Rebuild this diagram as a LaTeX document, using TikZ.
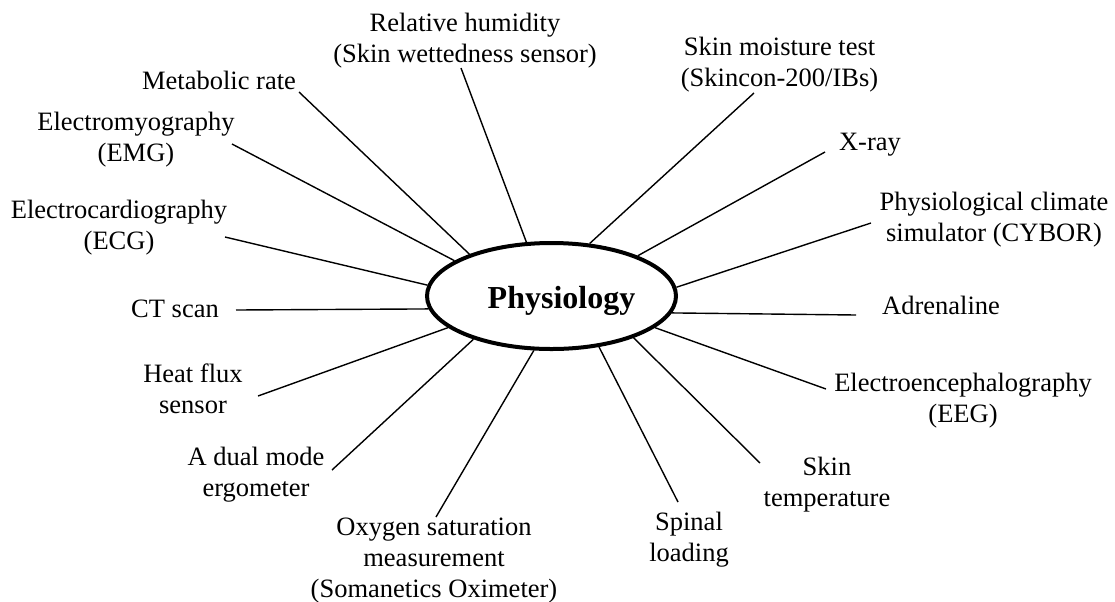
\documentclass[tikz,border=0pt]{standalone}
\usepackage{fontspec}
\setmainfont{Liberation Serif}
\usepackage{tikz}
\usetikzlibrary{shapes.geometric}
\tikzset{
  lbl/.style   ={align=center, inner sep=0pt, font=\fontsize{13.25}{15.5}\selectfont},
  hub/.style   ={ellipse, draw, line width=2pt, minimum width=124.5pt, minimum height=53pt, inner sep=0pt, font=\fontsize{16}{19}\selectfont\bfseries},
  spoke/.style ={line width=0.7pt},
}

\begin{document}
\begin{tikzpicture}[x=0.5pt, y=-0.5pt]
  \useasboundingbox (0,0) rectangle (1115,601);
  % --- hub ---
  \node[hub] (phys) at (551.5,296) {\hspace*{10pt}\raisebox{-6pt}[0pt][0pt]{Physiology}};
  % --- labels ---
  \node[lbl] (hum)    at (465,41)   {Relative humidity\\(Skin wettedness sensor)};
  \node[lbl] (moist)  at (779.5,65) {Skin moisture test\\(Skincon-200/IBs)};
  \node[lbl] (xray)   at (870,145)  {X-ray};
  \node[lbl] (cybor)  at (994,220)  {Physiological climate\\simulator (CYBOR)};
  \node[lbl] (adren)  at (941,305)  {Adrenaline};
  \node[lbl] (eeg)    at (963,401)  {Electroencephalography\\(EEG)};
  \node[lbl] (skint)  at (827,485)  {Skin\\temperature};
  \node[lbl] (spinal) at (689,540)  {Spinal\\loading};
  \node[lbl] (oxy)    at (434,561)  {Oxygen saturation\\measurement\\(Somanetics Oximeter)};
  \node[lbl] (dual)   at (256,475)  {A dual mode\\ergometer};
  \node[lbl] (heat)   at (193,389)  {Heat flux\\sensor};
  \node[lbl] (ct)     at (175,309)  {CT scan};
  \node[lbl] (ecg)    at (119,228)  {Electrocardiography\\(ECG)};
  \node[lbl] (emg)    at (136,140)  {Electromyography\\(EMG)};
  \node[lbl] (met)    at (219,80)   {Metabolic rate};
  % --- free ends of the spokes ---
  \coordinate (hum-e)    at (461,68);
  \coordinate (moist-e)  at (754,93);
  \coordinate (xray-e)   at (825,152);
  \coordinate (cybor-e)  at (871,223);
  \coordinate (adren-e)  at (856,315);
  \coordinate (eeg-e)    at (826,389);
  \coordinate (skint-e)  at (760,463);
  \coordinate (spinal-e) at (678,502);
  \coordinate (oxy-e)    at (436,517);
  \coordinate (dual-e)   at (332,470);
  \coordinate (heat-e)   at (258,396);
  \coordinate (ct-e)     at (236,310);
  \coordinate (ecg-e)    at (225,237);
  \coordinate (emg-e)    at (232,144);
  \coordinate (met-e)    at (299,92);
  % --- spokes ---
  \foreach \n/\a in {hum/115.7, moist/54.2, xray/25.9, cybor/4.2, adren/-8.0,
                     eeg/-17.4, skint/-27.5, spinal/-47.0, oxy/-108.3, dual/-151.6,
                     heat/-163.4, ct/-174.5, ecg/175.8, emg/160.8, met/153.8}
    \draw[spoke] (\n-e) -- (phys.\a);
\end{tikzpicture}
\end{document}
